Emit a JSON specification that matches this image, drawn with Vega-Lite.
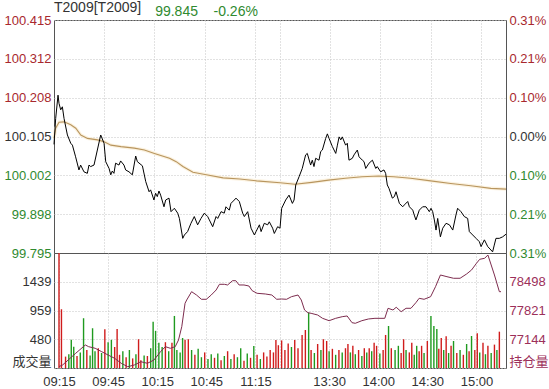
{
  "$schema": "https://vega.github.io/schema/vega-lite/v6.json",
  "background": "white",
  "padding": {"left": 3, "top": 0, "right": 0, "bottom": 0},
  "spacing": 0,
  "bounds": "flush",
  "config": {
    "view": {"stroke": "#555555", "strokeWidth": 1},
    "axis": {"labelFont": "Liberation Sans, Noto Sans CJK SC", "labelFontSize": 13, "domain": false, "ticks": false, "gridColor": "#c4c4c4", "gridDash": [1, 2], "title": null, "labelFlush": false, "labelOverlap": false, "labelColor": "#333333"}
  },
  "datasets": {
    "price": [
      {"t":0,"p":100.084},{"t":1,"p":100.153},{"t":2.4,"p":100.215},{"t":3,"p":100.193},{"t":4,"p":100.176},{"t":5,"p":100.184},{"t":6,"p":100.153},{"t":8,"p":100.109},{"t":10,"p":100.087},{"t":11,"p":100.082},{"t":12.9,"p":100.051},{"t":14.9,"p":100.016},{"t":15.9,"p":100.029},{"t":17.9,"p":100.011},{"t":19.9,"p":100.007},{"t":20.9,"p":100.029},{"t":21.9,"p":100.025},{"t":23.9,"p":100.029},{"t":25.9,"p":100.069},{"t":27.9,"p":100.109},{"t":29.9,"p":100.087},{"t":30.9,"p":100.038},{"t":32.9,"p":100.020},{"t":33.9,"p":100.003},{"t":34.8,"p":100.013},{"t":35.8,"p":100.007},{"t":36.8,"p":100.034},{"t":38.8,"p":100.029},{"t":39.8,"p":100.040},{"t":41.8,"p":100.029},{"t":42.8,"p":100.016},{"t":44.8,"p":100.011},{"t":46.8,"p":100.003},{"t":48.8,"p":100.053},{"t":49.8,"p":100.038},{"t":52.8,"p":100.027},{"t":54.8,"p":99.985},{"t":56.8,"p":99.958},{"t":57.7,"p":99.963},{"t":59.7,"p":99.936},{"t":60.7,"p":99.954},{"t":61.7,"p":99.945},{"t":62.7,"p":99.960},{"t":63.7,"p":99.949},{"t":65.7,"p":99.918},{"t":66.7,"p":99.936},{"t":68.7,"p":99.941},{"t":69.9,"p":99.905},{"t":71.9,"p":99.914},{"t":73.9,"p":99.901},{"t":74.9,"p":99.887},{"t":76.9,"p":99.834},{"t":77.9,"p":99.843},{"t":79.8,"p":99.852},{"t":81.8,"p":99.874},{"t":83.8,"p":99.892},{"t":85.8,"p":99.870},{"t":87.8,"p":99.887},{"t":89.8,"p":99.901},{"t":91.8,"p":99.892},{"t":92.8,"p":99.883},{"t":94.8,"p":99.865},{"t":96.8,"p":99.892},{"t":97.8,"p":99.887},{"t":99.8,"p":99.905},{"t":101.7,"p":99.901},{"t":102.7,"p":99.918},{"t":104.7,"p":99.909},{"t":105.7,"p":99.927},{"t":107.7,"p":99.936},{"t":108.7,"p":99.941},{"t":110.7,"p":99.932},{"t":112.7,"p":99.901},{"t":113.7,"p":99.892},{"t":115.7,"p":99.905},{"t":117.7,"p":99.861},{"t":119.7,"p":99.843},{"t":120.7,"p":99.852},{"t":122.7,"p":99.870},{"t":123.7,"p":99.852},{"t":125.6,"p":99.874},{"t":127.6,"p":99.870},{"t":128.6,"p":99.878},{"t":130.6,"p":99.861},{"t":131.6,"p":99.847},{"t":133.6,"p":99.865},{"t":135,"p":99.861},{"t":136,"p":99.914},{"t":138.4,"p":99.936},{"t":140.4,"p":99.949},{"t":142.4,"p":99.927},{"t":143.4,"p":99.936},{"t":144.4,"p":99.976},{"t":146.4,"p":99.998},{"t":148.3,"p":100.020},{"t":150.3,"p":100.056},{"t":151.3,"p":100.060},{"t":153.3,"p":100.029},{"t":154.3,"p":100.042},{"t":155.3,"p":100.025},{"t":156.3,"p":100.047},{"t":158.3,"p":100.042},{"t":159.3,"p":100.065},{"t":160.3,"p":100.069},{"t":162.3,"p":100.100},{"t":163.3,"p":100.112},{"t":164.3,"p":100.100},{"t":166.3,"p":100.078},{"t":168.3,"p":100.060},{"t":169.3,"p":100.082},{"t":170.3,"p":100.104},{"t":171.3,"p":100.096},{"t":172.2,"p":100.104},{"t":174.2,"p":100.082},{"t":175.2,"p":100.087},{"t":176.2,"p":100.042},{"t":178.2,"p":100.047},{"t":179.2,"p":100.056},{"t":181.2,"p":100.069},{"t":182.2,"p":100.051},{"t":184.2,"p":100.042},{"t":185.2,"p":100.038},{"t":186.2,"p":100.020},{"t":188.2,"p":100.034},{"t":190.2,"p":100.042},{"t":192.2,"p":100.020},{"t":193.1,"p":100.025},{"t":195.1,"p":100.011},{"t":197.1,"p":100.016},{"t":198.1,"p":100.007},{"t":199.1,"p":99.976},{"t":200.1,"p":99.967},{"t":202.1,"p":99.941},{"t":203.3,"p":99.945},{"t":204.3,"p":99.958},{"t":206.3,"p":99.927},{"t":208.3,"p":99.918},{"t":209.3,"p":99.923},{"t":211.3,"p":99.932},{"t":212.3,"p":99.918},{"t":214.3,"p":99.909},{"t":215.2,"p":99.896},{"t":216.2,"p":99.883},{"t":218.2,"p":99.909},{"t":220.2,"p":99.918},{"t":222.2,"p":99.918},{"t":224.2,"p":99.905},{"t":225.2,"p":99.914},{"t":226.2,"p":99.905},{"t":227.2,"p":99.883},{"t":228.2,"p":99.856},{"t":229.2,"p":99.887},{"t":230.8,"p":99.838},{"t":232.2,"p":99.861},{"t":234.2,"p":99.874},{"t":236.2,"p":99.870},{"t":238.2,"p":99.856},{"t":240.1,"p":99.896},{"t":241.1,"p":99.914},{"t":243.1,"p":99.905},{"t":245.1,"p":99.892},{"t":247.1,"p":99.887},{"t":248.1,"p":99.852},{"t":250.1,"p":99.843},{"t":252.1,"p":99.834},{"t":254.1,"p":99.825},{"t":255.1,"p":99.812},{"t":257.1,"p":99.830},{"t":259.1,"p":99.812},{"t":261,"p":99.803},{"t":262,"p":99.798},{"t":263,"p":99.816},{"t":264,"p":99.834},{"t":266,"p":99.834},{"t":268,"p":99.838},{"t":270,"p":99.845}
    ],
    "avg": [
      {"t":0,"a":100.100},{"t":1,"a":100.127},{"t":3,"a":100.143},{"t":6,"a":100.144},{"t":10,"a":100.136},{"t":13,"a":100.127},{"t":16,"a":100.109},{"t":20,"a":100.100},{"t":26,"a":100.096},{"t":30,"a":100.091},{"t":34,"a":100.082},{"t":40,"a":100.078},{"t":48,"a":100.074},{"t":54,"a":100.069},{"t":60,"a":100.060},{"t":69,"a":100.047},{"t":73,"a":100.038},{"t":77,"a":100.025},{"t":83,"a":100.010},{"t":91,"a":100.003},{"t":101,"a":99.995},{"t":111,"a":99.992},{"t":121,"a":99.987},{"t":135,"a":99.982},{"t":144,"a":99.978},{"t":154,"a":99.983},{"t":164,"a":99.989},{"t":174,"a":99.994},{"t":184,"a":99.998},{"t":194,"a":100.000},{"t":203,"a":99.998},{"t":213,"a":99.994},{"t":225,"a":99.987},{"t":237,"a":99.980},{"t":249,"a":99.974},{"t":261,"a":99.967},{"t":270,"a":99.965}
    ],
    "vol": [
      {"t":0,"v":1918,"c":"r"},{"t":1.5,"v":980,"c":"r"},{"t":4,"v":190,"c":"r"},{"t":6,"v":230,"c":"g"},{"t":7.5,"v":470,"c":"g"},{"t":9,"v":355,"c":"g"},{"t":11,"v":200,"c":"r"},{"t":13,"v":260,"c":"g"},{"t":15,"v":830,"c":"g"},{"t":17,"v":300,"c":"r"},{"t":19,"v":210,"c":"g"},{"t":20.5,"v":663,"c":"g"},{"t":22,"v":280,"c":"g"},{"t":24,"v":330,"c":"r"},{"t":26,"v":250,"c":"g"},{"t":28,"v":645,"c":"r"},{"t":30,"v":430,"c":"g"},{"t":32,"v":470,"c":"g"},{"t":34,"v":350,"c":"r"},{"t":35.5,"v":650,"c":"r"},{"t":37,"v":220,"c":"r"},{"t":39,"v":280,"c":"g"},{"t":41,"v":180,"c":"r"},{"t":43,"v":300,"c":"g"},{"t":45,"v":160,"c":"r"},{"t":47,"v":230,"c":"g"},{"t":48.6,"v":480,"c":"r"},{"t":50,"v":130,"c":"r"},{"t":52,"v":210,"c":"g"},{"t":54,"v":200,"c":"r"},{"t":56,"v":330,"c":"g"},{"t":57.5,"v":773,"c":"g"},{"t":59,"v":620,"c":"g"},{"t":61,"v":420,"c":"g"},{"t":63,"v":350,"c":"g"},{"t":65,"v":430,"c":"r"},{"t":67,"v":280,"c":"g"},{"t":69,"v":420,"c":"r"},{"t":70.5,"v":868,"c":"g"},{"t":72,"v":300,"c":"g"},{"t":74,"v":260,"c":"g"},{"t":75.5,"v":500,"c":"g"},{"t":77,"v":470,"c":"r"},{"t":79,"v":480,"c":"r"},{"t":81,"v":300,"c":"g"},{"t":83,"v":220,"c":"r"},{"t":85,"v":320,"c":"g"},{"t":87,"v":180,"c":"g"},{"t":89,"v":260,"c":"r"},{"t":91,"v":150,"c":"g"},{"t":93,"v":230,"c":"g"},{"t":95,"v":170,"c":"r"},{"t":97,"v":240,"c":"g"},{"t":99,"v":130,"c":"r"},{"t":101,"v":200,"c":"g"},{"t":103,"v":280,"c":"r"},{"t":105,"v":150,"c":"g"},{"t":107,"v":230,"c":"r"},{"t":109,"v":180,"c":"g"},{"t":111,"v":330,"c":"g"},{"t":113,"v":120,"c":"r"},{"t":115,"v":240,"c":"g"},{"t":117,"v":170,"c":"r"},{"t":119,"v":367,"c":"g"},{"t":121,"v":220,"c":"r"},{"t":123,"v":150,"c":"g"},{"t":125,"v":260,"c":"r"},{"t":127,"v":190,"c":"r"},{"t":129,"v":300,"c":"r"},{"t":131,"v":260,"c":"r"},{"t":132.5,"v":467,"c":"r"},{"t":134,"v":380,"c":"r"},{"t":136,"v":460,"c":"r"},{"t":138,"v":300,"c":"r"},{"t":140,"v":410,"c":"r"},{"t":142,"v":350,"c":"g"},{"t":144,"v":467,"c":"r"},{"t":146,"v":330,"c":"r"},{"t":148.5,"v":551,"c":"r"},{"t":150.5,"v":634,"c":"r"},{"t":152.5,"v":924,"c":"g"},{"t":154,"v":300,"c":"r"},{"t":156,"v":250,"c":"g"},{"t":158,"v":400,"c":"r"},{"t":160,"v":300,"c":"g"},{"t":161.5,"v":480,"c":"r"},{"t":163.5,"v":450,"c":"r"},{"t":165,"v":280,"c":"g"},{"t":167,"v":320,"c":"r"},{"t":169,"v":220,"c":"g"},{"t":171,"v":300,"c":"r"},{"t":173,"v":260,"c":"g"},{"t":175,"v":330,"c":"r"},{"t":176.5,"v":400,"c":"r"},{"t":178,"v":260,"c":"g"},{"t":179.5,"v":370,"c":"r"},{"t":181,"v":230,"c":"g"},{"t":183,"v":300,"c":"r"},{"t":185,"v":200,"c":"g"},{"t":186.5,"v":330,"c":"r"},{"t":188,"v":260,"c":"g"},{"t":189.5,"v":330,"c":"r"},{"t":191,"v":280,"c":"g"},{"t":192.5,"v":420,"c":"r"},{"t":194,"v":370,"c":"r"},{"t":196,"v":240,"c":"g"},{"t":198,"v":300,"c":"r"},{"t":199.5,"v":551,"c":"r"},{"t":201.3,"v":701,"c":"g"},{"t":203,"v":330,"c":"r"},{"t":205.3,"v":300,"c":"g"},{"t":207.3,"v":370,"c":"g"},{"t":209,"v":250,"c":"r"},{"t":210.5,"v":480,"c":"r"},{"t":212,"v":300,"c":"g"},{"t":214,"v":260,"c":"r"},{"t":215.5,"v":420,"c":"r"},{"t":217,"v":220,"c":"g"},{"t":218.5,"v":370,"c":"g"},{"t":220,"v":280,"c":"r"},{"t":221.5,"v":370,"c":"r"},{"t":223,"v":250,"c":"g"},{"t":225,"v":450,"c":"r"},{"t":227.2,"v":868,"c":"g"},{"t":229,"v":700,"c":"g"},{"t":230.8,"v":650,"c":"g"},{"t":232,"v":320,"c":"r"},{"t":233.5,"v":500,"c":"r"},{"t":235,"v":300,"c":"g"},{"t":236.5,"v":530,"c":"r"},{"t":238,"v":250,"c":"g"},{"t":239.5,"v":370,"c":"r"},{"t":241,"v":450,"c":"g"},{"t":243,"v":250,"c":"r"},{"t":245,"v":300,"c":"g"},{"t":247,"v":220,"c":"r"},{"t":249,"v":400,"c":"g"},{"t":250.5,"v":280,"c":"r"},{"t":252,"v":534,"c":"g"},{"t":254,"v":300,"c":"r"},{"t":255.5,"v":579,"c":"r"},{"t":257,"v":260,"c":"g"},{"t":259,"v":420,"c":"r"},{"t":260.5,"v":230,"c":"g"},{"t":262,"v":370,"c":"r"},{"t":264,"v":250,"c":"g"},{"t":266,"v":390,"c":"r"},{"t":267.5,"v":300,"c":"g"},{"t":269,"v":606,"c":"r"}
    ],
    "oi": [
      {"t":0,"o":76500},{"t":2.2,"o":76538},{"t":10.2,"o":76813},{"t":16.1,"o":77009},{"t":18.1,"o":76969},{"t":22.1,"o":76931},{"t":26.1,"o":76851},{"t":30,"o":76773},{"t":34,"o":76695},{"t":38,"o":76578},{"t":42,"o":76498},{"t":46,"o":76538},{"t":50,"o":76615},{"t":54,"o":76578},{"t":58,"o":76655},{"t":62,"o":76851},{"t":65,"o":76969},{"t":68,"o":76931},{"t":71,"o":76969},{"t":73,"o":77126},{"t":75,"o":77440},{"t":77,"o":77991},{"t":78,"o":78068},{"t":81,"o":78264},{"t":84,"o":78186},{"t":87,"o":78085},{"t":90,"o":78085},{"t":93,"o":78186},{"t":96,"o":78304},{"t":98,"o":78438},{"t":101,"o":78438},{"t":103,"o":78422},{"t":106,"o":78523},{"t":108,"o":78523},{"t":110,"o":78422},{"t":113,"o":78422},{"t":116,"o":78398},{"t":118,"o":78288},{"t":121,"o":78226},{"t":126,"o":78210},{"t":130,"o":78186},{"t":133,"o":78085},{"t":136,"o":78092},{"t":139,"o":78085},{"t":142,"o":78146},{"t":146,"o":78186},{"t":148,"o":78068},{"t":150,"o":77833},{"t":152,"o":77769},{"t":154,"o":77755},{"t":158,"o":77715},{"t":161,"o":77637},{"t":165,"o":77581},{"t":169,"o":77637},{"t":173,"o":77675},{"t":176,"o":77692},{"t":179,"o":77534},{"t":181,"o":77520},{"t":185,"o":77581},{"t":189,"o":77621},{"t":193,"o":77637},{"t":199,"o":77637},{"t":201,"o":77873},{"t":204,"o":77833},{"t":206,"o":77897},{"t":209,"o":77793},{"t":212,"o":77873},{"t":215,"o":77873},{"t":218,"o":78005},{"t":220,"o":78108},{"t":223,"o":78085},{"t":227,"o":78146},{"t":230,"o":78382},{"t":233,"o":78657},{"t":237,"o":78617},{"t":241,"o":78580},{"t":245,"o":78580},{"t":249,"o":78681},{"t":252,"o":78775},{"t":255,"o":78932},{"t":257,"o":79027},{"t":260,"o":79050},{"t":262,"o":79128},{"t":264,"o":78893},{"t":266,"o":78657},{"t":269,"o":78264},{"t":270,"o":78264}
    ]
  },
  "vconcat": [
    {
      "width": 452,
      "height": 233,
      "title": {
        "text": "T2009[T2009]",
        "subtitle": "\u200b\u00a0\u00a0\u00a0\u00a0\u00a0\u00a0\u00a0\u00a0\u00a0\u00a0\u00a0\u00a0\u00a0\u00a0\u00a0\u00a0\u00a0\u00a0\u00a0\u00a0\u00a0\u00a0\u00a0\u00a0\u00a0\u00a099.845\u00a0\u00a0\u00a0\u00a0-0.26%",
        "anchor": "start",
        "frame": "group",
        "font": "Liberation Sans",
        "fontSize": 14,
        "fontWeight": "normal",
        "color": "#333333",
        "subtitleFont": "Liberation Sans",
        "subtitleFontSize": 14,
        "subtitleColor": "#2f8a2f",
        "subtitlePadding": -10,
        "offset": -5
      },
      "encoding": {
        "x": {"field": "t", "type": "quantitative", "scale": {"domain": [0, 270], "nice": false, "zero": false}, "axis": {"values": [30, 60, 90, 120, 135, 165, 195, 225, 255], "labels": false, "grid": true, "title": null, "labelPadding": 0, "minExtent": 0, "maxExtent": 0, "offset": 0}}
      },
      "layer": [
        {
          "data": {"name": "avg"},
          "mark": {"type": "line", "color": "#fbf2e0", "strokeWidth": 3.5},
          "encoding": {
            "y": {"field": "a", "type": "quantitative", "scale": {"domain": [99.795, 100.415], "nice": false, "zero": false},
              "axis": {"orient": "left", "values": [99.795, 99.898, 100.002, 100.105, 100.208, 100.312, 100.415], "format": ".3f", "grid": true, "minExtent": 50, "maxExtent": 50, "labelPadding": 3, "title": null,
                "labelColor": {"condition": [{"test": "datum.value > 100.11", "value": "#a8282e"}, {"test": "datum.value < 100.1", "value": "#2f8a2f"}], "value": "#333333"}}}
          }
        },
        {
          "data": {"name": "avg"},
          "mark": {"type": "line", "color": "#b8955e", "strokeWidth": 1.1},
          "encoding": {
            "y": {"field": "a", "type": "quantitative", "scale": {"domain": [99.795, 100.415], "nice": false, "zero": false},
              "axis": {"orient": "right", "values": [99.795, 99.898, 100.002, 100.105, 100.208, 100.312, 100.415], "labelExpr": "format(abs(datum.value - 100.105) / 100.105 * 100, '.2f') + '%'", "grid": false, "minExtent": 44, "maxExtent": 44, "labelPadding": 3, "title": null,
                "labelColor": {"condition": [{"test": "datum.value > 100.11", "value": "#a8282e"}, {"test": "datum.value < 100.1", "value": "#2f8a2f"}], "value": "#333333"}}}
          }
        },
        {
          "data": {"name": "price"},
          "mark": {"type": "line", "color": "#000000", "strokeWidth": 1},
          "encoding": {
            "y": {"field": "p", "type": "quantitative", "scale": {"domain": [99.795, 100.415], "nice": false, "zero": false}, "axis": null}
          }
        }
      ],
      "resolve": {"axis": {"y": "independent"}}
    },
    {
      "width": 452,
      "height": 115,
      "encoding": {
        "x": {"field": "t", "type": "quantitative", "scale": {"domain": [0, 270], "nice": false, "zero": false},
          "axis": {"values": [0, 30, 60, 90, 120, 135, 165, 195, 225, 255], "grid": true, "labelPadding": 7, "title": null,
            "labelExpr": "datum.value == 135 ? '' : format(floor((datum.value < 135 ? 555 + datum.value : 645 + datum.value) / 60), '02d') + ':' + format((datum.value < 135 ? 555 + datum.value : 645 + datum.value) % 60, '02d')"}}
      },
      "layer": [
        {
          "data": {"name": "vol"},
          "mark": {"type": "bar", "width": 1.4},
          "encoding": {
            "y": {"field": "v", "type": "quantitative", "scale": {"domain": [0, 1918], "nice": false, "zero": true},
              "axis": {"orient": "left", "values": [0, 480, 959, 1439], "format": "d", "grid": true, "minExtent": 50, "maxExtent": 50, "labelPadding": 3, "title": null,
                "labelExpr": "datum.value == 0 ? '成交量' : datum.label",
                "labelBaseline": {"condition": {"test": "datum.value == 0", "value": "bottom"}, "value": "middle"}}},
            "color": {"field": "c", "type": "nominal", "scale": {"domain": ["r", "g"], "range": ["#d01c1c", "#1f9a1f"]}, "legend": null}
          }
        },
        {
          "data": {"name": "oi"},
          "mark": {"type": "line", "color": "#7d2c4e", "strokeWidth": 1},
          "encoding": {
            "y": {"field": "o", "type": "quantitative", "scale": {"domain": [76467, 79175], "nice": false, "zero": false},
              "axis": {"orient": "right", "values": [76467, 77144, 77821, 78498], "format": "d", "grid": false, "minExtent": 44, "maxExtent": 44, "labelPadding": 3, "title": null, "labelColor": "#9c2f5a",
                "labelExpr": "datum.value < 76500 ? '持仓量' : datum.label",
                "labelBaseline": {"condition": {"test": "datum.value < 76500", "value": "bottom"}, "value": "middle"}}}
          }
        }
      ],
      "resolve": {"scale": {"y": "independent"}, "axis": {"y": "independent"}}
    }
  ]
}
